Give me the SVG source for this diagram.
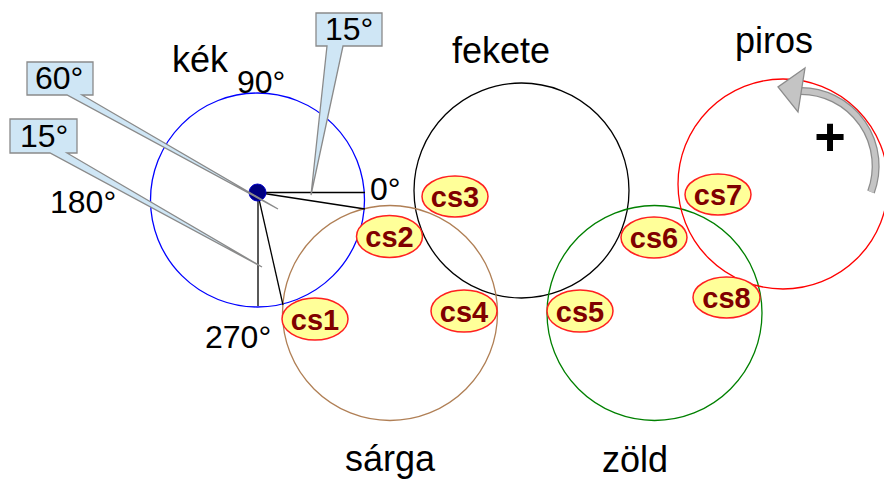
<svg xmlns="http://www.w3.org/2000/svg" width="884" height="479" viewBox="0 0 884 479">
<style>
text{font-family:"Liberation Sans",Arial,sans-serif;fill:#000}
.name{font-size:36px}
.deg{font-size:32px}
.ring{fill:none;stroke-width:1.3}
.cs ellipse{fill:#ffff99;stroke:#ff2020;stroke-width:1.5}
.cs text{font-size:29px;font-weight:bold;fill:#800000;text-anchor:middle}
.callout{fill:#cfe6f5;stroke:#8a8a8a;stroke-width:1.3;stroke-linejoin:miter}
.conn line{stroke:#000;stroke-width:1.3}
</style>
<rect width="884" height="479" fill="#fff"/>

<g id="kek">
<circle class="ring" cx="257.5" cy="200" r="107" stroke="#0000ff"/>
<text class="name" x="172" y="72">kék</text>
</g>
<g id="fekete">
<circle class="ring" cx="521.5" cy="190.5" r="107.5" stroke="#000"/>
<text class="name" x="452" y="63">fekete</text>
</g>
<g id="sarga">
<circle class="ring" cx="390" cy="313" r="107.5" stroke="#b07f55"/>
<text class="name" x="345" y="471">sárga</text>
</g>
<g id="zold">
<circle class="ring" cx="654.5" cy="313" r="107.5" stroke="#008000"/>
<text class="name" x="602" y="472">zöld</text>
</g>
<g id="piros">
<circle class="ring" cx="783" cy="184" r="105" stroke="#ff0000"/>
<text class="name" x="735" y="53">piros</text>
</g>

<g id="angles">
<text class="deg" x="237" y="93">90°</text>
<text class="deg" x="370" y="200">0°</text>
<text class="deg" x="50" y="213">180°</text>
<text class="deg" x="205" y="348">270°</text>
</g>

<g id="connectors" class="conn">
<line x1="257.5" y1="192.5" x2="365" y2="192.5"/>
<line x1="257.5" y1="192.5" x2="365" y2="209"/>
<line x1="258" y1="192.5" x2="258" y2="306"/>
<line x1="257.5" y1="192.5" x2="283" y2="305"/>
</g>

<g id="center">
<circle cx="257.5" cy="192.5" r="8.5" fill="#000080" stroke="#0000cc" stroke-width="1"/>
</g>

<g id="callout-60">
<path class="callout" d="M27,62 H93 V95 H82 L278,209 L67,95 H27 Z"/>
<text class="deg" x="35" y="89">60°</text>
</g>
<g id="callout-15-left">
<path class="callout" d="M10,119 H77 V153 H67 L262,267 L50,153 H10 Z"/>
<text class="deg" x="20" y="147">15°</text>
</g>
<g id="callout-15-top">
<path class="callout" d="M316,13 H382 V46 H343 L311,195 L327,46 H316 Z"/>
<text class="deg" x="325" y="40">15°</text>
</g>

<g class="cs">
<g id="cs1"><ellipse cx="315" cy="319" rx="33" ry="21"/><text x="315" y="329.5">cs1</text></g>
<g id="cs2"><ellipse cx="389.5" cy="236.5" rx="33" ry="21"/><text x="389.5" y="247">cs2</text></g>
<g id="cs3"><ellipse cx="455" cy="196.5" rx="33" ry="20.5"/><text x="455" y="207">cs3</text></g>
<g id="cs4"><ellipse cx="464" cy="311" rx="33" ry="21"/><text x="464" y="321.5">cs4</text></g>
<g id="cs5"><ellipse cx="580" cy="311" rx="33" ry="21"/><text x="580" y="321.5">cs5</text></g>
<g id="cs6"><ellipse cx="654" cy="237.5" rx="33" ry="20.5"/><text x="654" y="248">cs6</text></g>
<g id="cs7"><ellipse cx="718" cy="194.5" rx="33" ry="20.5"/><text x="718" y="205">cs7</text></g>
<g id="cs8"><ellipse cx="726.5" cy="297.5" rx="33.5" ry="20.5"/><text x="726.5" y="308">cs8</text></g>
</g>

<g id="rotation">
<path d="M871,192 A75,75 0 0 0 801,91" fill="none" stroke="#8c8c8c" stroke-width="8"/>
<path d="M871,192 A75,75 0 0 0 801,91" fill="none" stroke="#c4c4c4" stroke-width="5.5"/>
<polygon points="805,68 778,87 798,112" fill="#c4c4c4" stroke="#8c8c8c" stroke-width="1.3"/>
<text x="830" y="155" font-size="54" font-weight="bold" text-anchor="middle">+</text>
</g>
</svg>
